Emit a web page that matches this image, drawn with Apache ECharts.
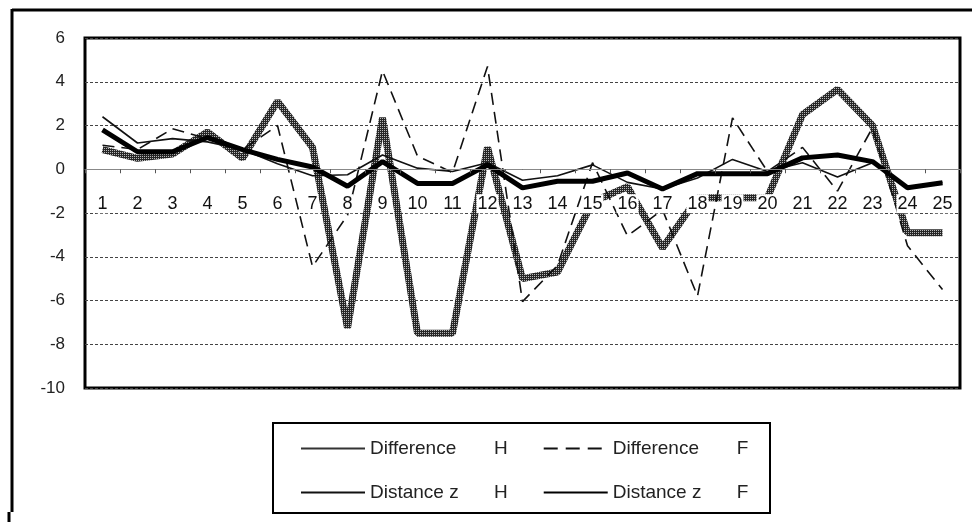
<!DOCTYPE html>
<html><head><meta charset="utf-8">
<script src="https://cdn.jsdelivr.net/npm/echarts@6/dist/echarts.min.js"></script>
<style>html,body{margin:0;padding:0;background:#fff}#c{width:972px;height:522px}</style>
</head><body><div id="c"></div>
<script>
const categories = ['1','2','3','4','5','6','7','8','9','10','11','12','13','14','15','16','17','18','19','20','21','22','23','24','25'];
const diffH = [0.9, 0.5, 0.7, 1.7, 0.5, 3.1, 1.0, -7.25, 2.35, -7.5, -7.5, 1.0, -5.0, -4.7, -1.5, -0.8, -3.6, -1.3, -1.3, -1.3, 2.5, 3.65, 2.0, -2.9, -2.9];
const diffF = [1.1, 0.9, 1.85, 1.4, 0.9, 2.0, -4.45, -2.1, 4.5, 0.6, -0.15, 4.7, -6.05, -4.4, 0.3, -3.05, -1.85, -5.8, 2.35, -0.1, 1.0, -1.0, 1.9, -3.5, -5.5];
const distH = [2.4, 1.2, 1.4, 1.25, 0.9, 0.25, -0.3, -0.25, 0.65, 0.05, -0.1, 0.3, -0.5, -0.3, 0.2, -0.6, -0.9, -0.4, 0.45, -0.1, 0.3, -0.35, 0.3, -0.8, -0.6];
const distF = [1.8, 0.8, 0.8, 1.45, 0.9, 0.45, 0.1, -0.78, 0.35, -0.65, -0.65, 0.2, -0.85, -0.55, -0.55, -0.17, -0.9, -0.2, -0.2, -0.2, 0.52, 0.65, 0.35, -0.85, -0.62];
const seriesNames = ['Difference H', 'Difference F', 'Distance z H', 'Distance z F'];
const legendLabels = [['Difference', 'H'], ['Difference', 'F'], ['Distance z', 'H'], ['Distance z', 'F']];
const yMin = -10, yMax = 6;

const pc = document.createElement('canvas');
pc.width = 2; pc.height = 2;
const g = pc.getContext('2d');
g.fillStyle = '#262626'; g.fillRect(0, 0, 2, 2);
g.fillStyle = '#b8b8b8'; g.fillRect(0, 0, 1, 1);
const patternColor = { image: pc, repeat: 'repeat' };

const FONT = 'Liberation Sans, Arial, sans-serif';
const chart = echarts.init(document.getElementById('c'), null, { renderer: 'canvas' });

const gridTop = 38, gridBottom = 134, H = 522;
const plotH = H - gridTop - gridBottom;
const zeroOffset = -plotH * (0 - yMin) / (yMax - yMin);

function legendFmt(name) {
  const i = seriesNames.indexOf(name);
  return '{a|' + legendLabels[i][0] + '}{b|' + legendLabels[i][1] + '}';
}
const legendCommon = {
  orient: 'horizontal', itemWidth: 64, itemHeight: 14, itemGap: 35,
  formatter: legendFmt, selectedMode: false,
  itemStyle: { opacity: 0 },
  textStyle: { fontFamily: FONT, fontSize: 19, color: '#222',
    rich: { a: { width: 124, fontSize: 19, fontFamily: FONT, color: '#222' },
            b: { width: 20, fontSize: 19, fontFamily: FONT, color: '#222' } } }
};

chart.setOption({
  backgroundColor: '#fff',
  animation: false,
  grid: { left: 85, right: 12, top: gridTop, bottom: gridBottom, show: true, borderColor: '#000', borderWidth: 3, backgroundColor: 'transparent' },
  legend: [
    Object.assign({ left: 295, top: 434, data: [
      { name: seriesNames[0], lineStyle: { color: '#333', width: 2 } },
      { name: seriesNames[1], lineStyle: { type: [14, 8] } }
    ] }, legendCommon),
    Object.assign({ left: 295, top: 478, data: [
      seriesNames[2],
      { name: seriesNames[3], lineStyle: { width: 2 } }
    ] }, legendCommon)
  ],
  xAxis: {
    type: 'category', data: categories, boundaryGap: true, position: 'bottom',
    offset: zeroOffset, z: 5,
    axisLine: { onZero: false, lineStyle: { color: '#888', width: 1 } },
    axisTick: { show: true, length: 4, lineStyle: { color: '#555' } },
    axisLabel: { interval: 0, fontSize: 18, fontFamily: FONT, color: '#111', margin: 25,
      backgroundColor: '#fff', padding: [1, 1, 0, 1] },
    splitLine: { show: false }
  },
  yAxis: {
    type: 'value', min: yMin, max: yMax, interval: 2,
    axisLine: { show: false }, axisTick: { show: false },
    axisLabel: { fontSize: 17, fontFamily: FONT, color: '#222', margin: 20 },
    splitLine: { show: true, lineStyle: { type: [3, 2], color: '#444', width: 1 } }
  },
  series: [
    { name: seriesNames[0], type: 'line', data: diffH, symbol: 'none',
      lineStyle: { color: patternColor, width: 7, join: 'bevel' }, itemStyle: { color: '#444' } },
    { name: seriesNames[1], type: 'line', data: diffF, symbol: 'none',
      lineStyle: { color: '#111', width: 1.6, type: [12, 7] }, itemStyle: { color: '#111' } },
    { name: seriesNames[2], type: 'line', data: distH, symbol: 'none',
      lineStyle: { color: '#111', width: 1.6 }, itemStyle: { color: '#111' } },
    { name: seriesNames[3], type: 'line', data: distF, symbol: 'none',
      lineStyle: { color: '#000', width: 5 }, itemStyle: { color: '#000' } }
  ],
  graphic: [
    { type: 'line', shape: { x1: 12, y1: 10, x2: 972, y2: 10 }, style: { stroke: '#000', lineWidth: 3 } },
    { type: 'line', shape: { x1: 12, y1: 9, x2: 12, y2: 512 }, style: { stroke: '#000', lineWidth: 3 } },
    { type: 'line', shape: { x1: 9, y1: 512, x2: 9, y2: 522 }, style: { stroke: '#000', lineWidth: 3 } },
    { type: 'rect', shape: { x: 273, y: 423, width: 497, height: 90 }, style: { fill: 'none', stroke: '#000', lineWidth: 2 } }
  ]
});
</script>
</body></html>
